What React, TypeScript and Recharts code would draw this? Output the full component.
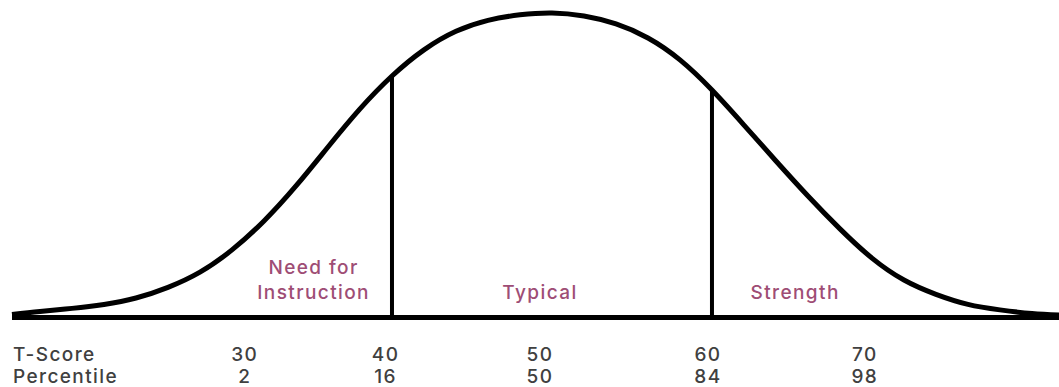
import { LineChart, Line, XAxis, YAxis, ReferenceLine, ReferenceDot } from 'recharts';

// Bell curve: x in T-score units, height in % of the peak
const curveT = [
  16.25, 18, 20, 22, 24, 26, 28, 30, 32, 34, 36, 38, 40, 42, 44, 46, 48,
  50, 52, 54, 56, 58, 60, 62, 64, 66, 68, 70, 72, 74, 76, 78, 80, 81.69
];
const curveHeight = [
  1.0, 2.0, 3.0, 4.3, 6.4, 9.9, 14.9, 22.2, 31.7, 43.2, 56.0, 68.5, 79.3, 87.9, 94.0, 97.6, 99.4,
  100, 99.0, 96.4, 91.8, 84.6, 74.7, 63.2, 51.4, 39.9, 29.1, 19.5, 12.3, 7.6, 4.3, 2.5, 1.3, 0.8
];

// Divider lines between the zones
const dividerT = [40, 60];
const dividerHeight = [79.3, 74.7];

// Zone names inside the curve
const zoneNames = [['Need for', 'Instruction'], ['Typical'], ['Strength']];
const zoneT = [35.1, 49.25, 65.2];
const zoneHeight = 6;

// Score rows under the axis (first entry is the row header)
const tickT = [16.25, 30.8, 39.6, 49.25, 59.75, 69.55];
const tScoreLabels = ['T-Score', '30', '40', '50', '60', '70'];
const percentileLabels = ['Percentile', '2', '16', '50', '84', '98'];

const chartData = curveT.map((t, i) => ({ t, height: curveHeight[i] }));

const FONT = 'Inter, "Open Sans", sans-serif';
const ZONE_COLOR = '#9e4d75';
const SCORE_COLOR = '#404040';
const textStyle = { fontSize: 19, fontFamily: FONT, fontWeight: 500, letterSpacing: 1.4 };

function ScoreTick(props: any) {
  const { x, y, index } = props;
  const header = index === 0;
  const anchor = header ? 'start' : 'middle';
  const tx = header ? x + 1 : x;
  return (
    <g>
      <text x={tx} y={y + 43} textAnchor={anchor} style={{ ...textStyle, fill: SCORE_COLOR }}>
        {tScoreLabels[index]}
      </text>
      <text x={tx} y={y + 65} textAnchor={anchor} style={{ ...textStyle, fill: SCORE_COLOR }}>
        {percentileLabels[index]}
      </text>
    </g>
  );
}

function ZoneLabel({ cx, cy, lines }: { cx: number; cy: number; lines: string[] }) {
  return (
    <text x={cx} y={cy} textAnchor="middle" style={{ ...textStyle, fill: ZONE_COLOR }}>
      {lines.map((line, i) => (
        <tspan key={line} x={cx} dy={i === 0 ? -(lines.length - 1) * 25 : 25}>
          {line}
        </tspan>
      ))}
    </text>
  );
}

export default function App() {
  return (
    <div style={{ position: 'absolute', left: 0, top: 0, width: 1059, height: 387, background: '#fff' }}>
      <LineChart width={1059} height={387} data={chartData} margin={{ top: 13, right: 0, bottom: 0, left: 12 }}>
        <XAxis
          dataKey="t"
          type="number"
          domain={[16.25, 81.6875]}
          ticks={tickT}
          interval={0}
          height={69.5}
          tickLine={false}
          tickSize={0}
          tickMargin={0}
          axisLine={{ stroke: '#000', strokeWidth: 5 }}
          tick={<ScoreTick />}
        />
        <YAxis hide domain={[0, 100]} />
        {dividerT.map((t, i) => (
          <ReferenceLine
            key={t}
            segment={[{ x: t, y: 0 }, { x: t, y: dividerHeight[i] }]}
            stroke="#000"
            strokeWidth={4}
          />
        ))}
        <Line
          type="natural"
          dataKey="height"
          stroke="#000"
          strokeWidth={5}
          dot={false}
          activeDot={false}
          isAnimationActive={false}
        />
        {zoneNames.map((lines, i) => (
          <ReferenceDot
            key={lines[0]}
            x={zoneT[i]}
            y={zoneHeight}
            r={0}
            shape={(p: any) => <ZoneLabel cx={p.cx} cy={p.cy} lines={lines} />}
          />
        ))}
      </LineChart>
    </div>
  );
}
